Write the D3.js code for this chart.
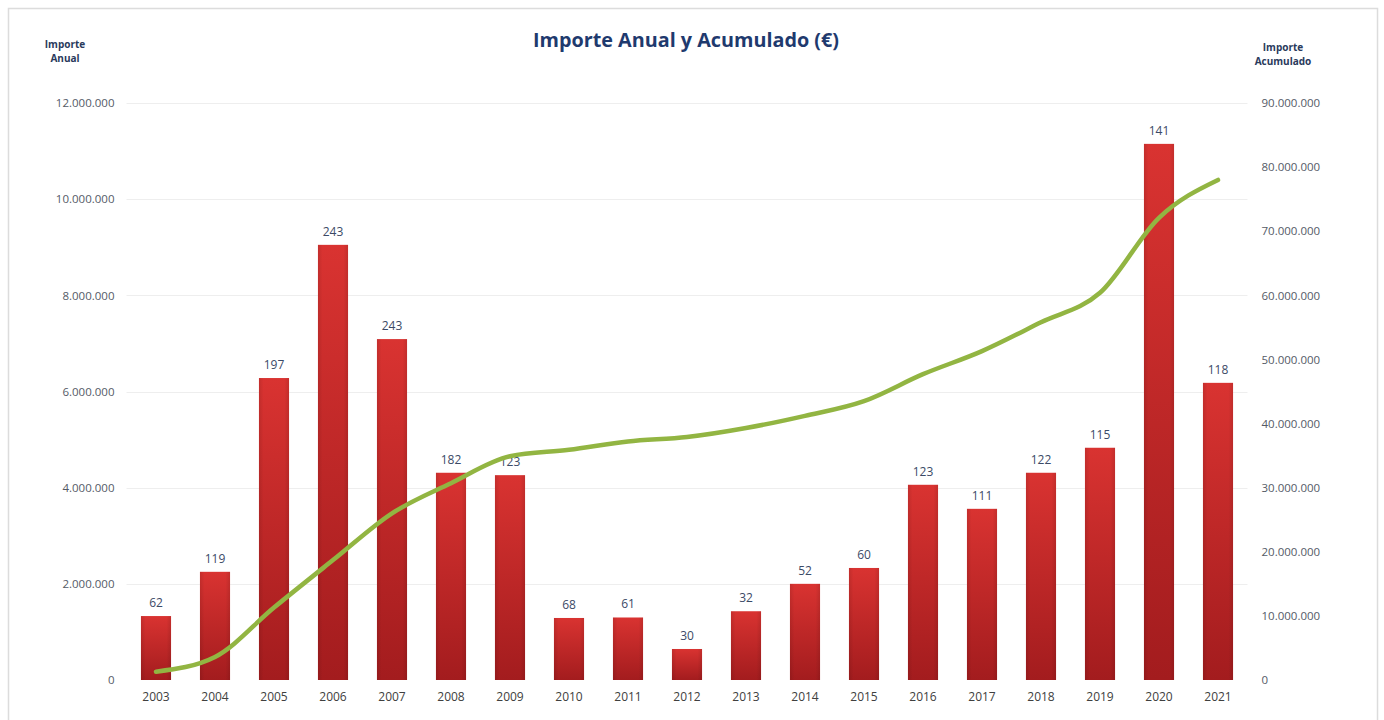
<!DOCTYPE html>
<html>
<head>
<meta charset="utf-8">
<script src="https://cdn.jsdelivr.net/npm/d3@7/dist/d3.min.js"></script>
<style>
  html, body { margin: 0; padding: 0; background: #fff; }
  svg { display: block; font-family: "Open Sans", "Liberation Sans", sans-serif; }
</style>
</head>
<body>
<svg id="chart" width="1384" height="720"></svg>
<script>
// Years shown on the category axis
const years = ["2003","2004","2005","2006","2007","2008","2009","2010","2011","2012",
               "2013","2014","2015","2016","2017","2018","2019","2020","2021"];
// Annual amount (€), left axis
const annual = [1330000, 2250000, 6280000, 9050000, 7090000, 4310000, 4260000, 1290000, 1300000, 645000,
                1430000, 2000000, 2330000, 4060000, 3560000, 4310000, 4830000, 11150000, 6180000];
// Number of operations per year, printed above each bar
const counts = [62, 119, 197, 243, 243, 182, 123, 68, 61, 30, 32, 52, 60, 123, 111, 122, 115, 141, 118];
// Cumulative amount (€), right axis
const cumulative = [1300000, 3600000, 11300000, 18700000, 26000000, 30700000, 34900000, 35900000, 37200000, 37900000,
                    39300000, 41200000, 43500000, 47700000, 51300000, 55800000, 60400000, 72100000, 78000000];
// Axis ticks
const leftTicks = [0, 2000000, 4000000, 6000000, 8000000, 10000000, 12000000];
const rightTicks = [0, 10000000, 20000000, 30000000, 40000000, 50000000, 60000000, 70000000, 80000000, 90000000];

const svg = d3.select("#chart");
const fmt = v => d3.format(",")(v).replace(/,/g, ".");

const plot = { left: 126.5, right: 1247.5, top: 103, bottom: 680 };

const x = d3.scaleBand().domain(years).range([plot.left, plot.right]).paddingInner(0.49).paddingOuter(0.245);
const yL = d3.scaleLinear().domain([0, 12000000]).range([plot.bottom, plot.top]);
const yR = d3.scaleLinear().domain([0, 90000000]).range([plot.bottom, plot.top]);

// Gradients for bars
const defs = svg.append("defs");
const gv = defs.append("linearGradient").attr("id", "barV").attr("x1", 0).attr("y1", 0).attr("x2", 0).attr("y2", 1);
gv.append("stop").attr("offset", "0%").attr("stop-color", "#d93331");
gv.append("stop").attr("offset", "100%").attr("stop-color", "#a31c1e");
const gh = defs.append("linearGradient").attr("id", "barH").attr("x1", 0).attr("y1", 0).attr("x2", 1).attr("y2", 0);
gh.append("stop").attr("offset", "0%").attr("stop-color", "#000").attr("stop-opacity", 0.10);
gh.append("stop").attr("offset", "15%").attr("stop-color", "#000").attr("stop-opacity", 0);
gh.append("stop").attr("offset", "85%").attr("stop-color", "#000").attr("stop-opacity", 0);
gh.append("stop").attr("offset", "100%").attr("stop-color", "#000").attr("stop-opacity", 0.10);

// Frame
svg.append("rect").attr("x", 8.5).attr("y", 8.5).attr("width", 1369).attr("height", 720)
  .attr("fill", "none").attr("stroke", "#dcdcdc").attr("stroke-width", 1.5);

// Gridlines
svg.append("g").selectAll("line").data(leftTicks.slice(1)).join("line")
  .attr("x1", plot.left).attr("x2", plot.right)
  .attr("y1", d => Math.round(yL(d)) + 0.5).attr("y2", d => Math.round(yL(d)) + 0.5)
  .attr("stroke", "#eeeeee").attr("stroke-width", 1);

// Left axis
const axL = svg.append("g").attr("transform", `translate(${plot.left},0)`)
  .call(d3.axisLeft(yL).tickValues(leftTicks).tickFormat(fmt).tickSize(0).tickPadding(12));
axL.select(".domain").remove();
axL.selectAll("text").attr("fill", "#545a66").attr("font-size", 11.5).attr("font-family", "'Open Sans', sans-serif");

// Right axis
const axR = svg.append("g").attr("transform", `translate(${plot.right},0)`)
  .call(d3.axisRight(yR).tickValues(rightTicks).tickFormat(fmt).tickSize(0).tickPadding(14));
axR.select(".domain").remove();
axR.selectAll("text").attr("fill", "#545a66").attr("font-size", 11.5).attr("font-family", "'Open Sans', sans-serif");

// Bottom axis
const axB = svg.append("g").attr("transform", `translate(0,${plot.bottom})`)
  .call(d3.axisBottom(x).tickSize(0).tickPadding(12));
axB.select(".domain").remove();
axB.selectAll("text").attr("fill", "#404040").attr("font-size", 12).attr("font-family", "'Open Sans', sans-serif");

// Bars
const bars = svg.append("g").selectAll("g").data(years).join("g");
bars.append("rect")
  .attr("x", d => x(d)).attr("width", x.bandwidth())
  .attr("y", (d, i) => yL(annual[i])).attr("height", (d, i) => yL(0) - yL(annual[i]))
  .attr("fill", "url(#barV)");
bars.append("rect")
  .attr("x", d => x(d)).attr("width", x.bandwidth())
  .attr("y", (d, i) => yL(annual[i])).attr("height", (d, i) => yL(0) - yL(annual[i]))
  .attr("fill", "url(#barH)");

// Count labels above bars
svg.append("g").selectAll("text").data(years).join("text")
  .attr("x", d => x(d) + x.bandwidth() / 2)
  .attr("y", (d, i) => yL(annual[i]) - 9)
  .attr("text-anchor", "middle")
  .attr("fill", "#3b4a66").attr("font-size", 12)
  .text((d, i) => counts[i]);

// Cumulative line
const line = d3.line()
  .x((d, i) => x(years[i]) + x.bandwidth() / 2)
  .y(d => yR(d))
  .curve(d3.curveMonotoneX);
svg.append("path").datum(cumulative)
  .attr("d", line).attr("fill", "none")
  .attr("stroke", "#92b542").attr("stroke-width", 4.5).attr("stroke-linecap", "round");

// Titles
svg.append("text").attr("x", 686).attr("y", 47).attr("text-anchor", "middle")
  .attr("fill", "#1f3a6e").attr("font-size", 19.8).attr("font-weight", "bold")
  .text("Importe Anual y Acumulado (€)");

const lt = svg.append("text").attr("text-anchor", "middle").attr("fill", "#2a3a5c")
  .attr("font-size", 10).attr("font-weight", "bold");
lt.append("tspan").attr("x", 65).attr("y", 48).text("Importe");
lt.append("tspan").attr("x", 65).attr("y", 62).text("Anual");

const rt = svg.append("text").attr("text-anchor", "middle").attr("fill", "#2a3a5c")
  .attr("font-size", 10).attr("font-weight", "bold");
rt.append("tspan").attr("x", 1283).attr("y", 51).text("Importe");
rt.append("tspan").attr("x", 1283).attr("y", 65).text("Acumulado");
</script>
</body>
</html>
